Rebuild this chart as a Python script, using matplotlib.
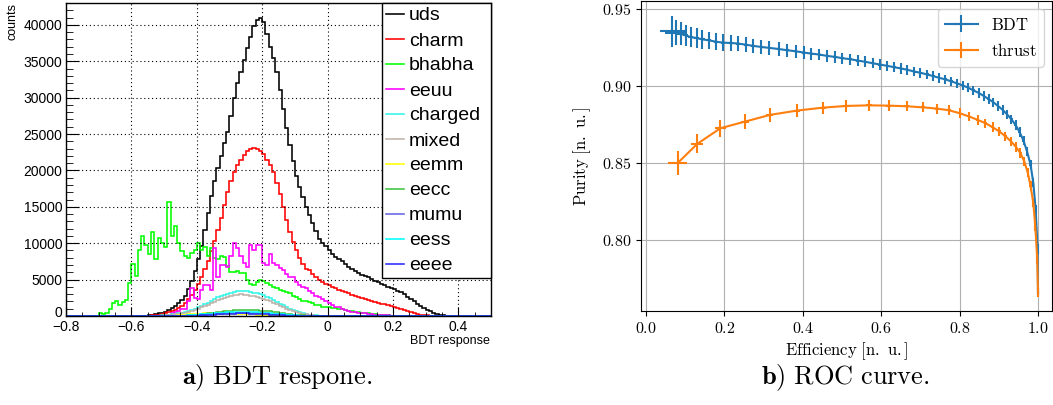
import numpy as np
import matplotlib
matplotlib.use('Agg')
import matplotlib.pyplot as plt
from matplotlib.ticker import MultipleLocator, FuncFormatter

plt.rcParams['mathtext.fontset'] = 'cm'

# ---------- Histogram data (BDT response, bins of 0.01 from -0.8 to 0.5) ---------- #
bin_lo, bin_hi, bin_w = -0.80, 0.50, 0.01

uds_start = -0.56
uds = [50, 100, 180, 280, 380, 480, 600, 800, 1100, 1400, 1800, 2200, 2800, 3700,
       4800, 6200, 7800, 9600, 11800, 14200, 16500, 18500, 20300, 22000, 23700, 25300,
       27500, 30000, 32000, 33500, 35200, 36800, 38300, 39800, 40600, 41000, 40400,
       38800, 37000, 35500, 33500, 31000, 28500, 25800, 23500, 21300, 19300, 17700,
       16300, 15000, 13900, 12800, 11700, 10600, 10000, 9600, 9000, 8500, 8100, 7800,
       7500, 7100, 6800, 6500, 6200, 5900, 5700, 5500, 5300, 5050, 4850, 4650, 4450,
       4250, 4050, 3850, 3650, 3500, 3300, 3000, 2650, 2350, 2000, 1700, 1400, 1100,
       850, 650, 450, 300, 180, 100, 50, 20]

charm_start = -0.55
charm = [50, 80, 130, 200, 280, 380, 500, 650, 850, 1100, 1400, 1800, 2300, 2900,
         3600, 4400, 5300, 6400, 7600, 8900, 10300, 11800, 13500, 15300, 17000, 18500,
         19800, 20800, 21500, 22100, 22600, 22900, 23100, 23000, 22700, 22200, 21500,
         20700, 19800, 18300, 16700, 15000, 13200, 11600, 10200, 9000, 8000, 7200, 6500,
         6300, 5800, 5300, 5000, 4700, 4450, 4250, 4000, 3800, 3600, 3400, 3250, 3100,
         2950, 2800, 2650, 2500, 2350, 2200, 2050, 1900, 1800, 1700, 1600, 1500, 1400,
         1250, 1100, 950, 800, 650, 500, 380, 280, 200, 130, 80, 40]

bhabha_start = -0.70
bhabha = [370, 300, 400, 900, 1750, 2000, 1500, 1900, 2200, 4500, 7200, 5500, 9000,
          11000, 9800, 8500, 11500, 7800, 10700, 10000, 9500, 15600, 11000, 12300,
          10000, 8900, 8300, 7900, 8600, 9100, 10000, 9100, 9500, 8200, 9300, 7900, 7800,
          8300, 8100, 6900, 6100, 6000, 6200, 5900, 5900, 5000, 4400, 4300, 4700, 5000,
          4800, 4500, 4200, 4000, 3800, 3600, 3500, 3300, 3100, 2800, 2600, 2300, 2100,
          2000, 1950, 1800, 1500, 1450, 1300, 1250, 1200, 1100, 1050, 1000, 950, 850,
          750, 650, 600, 520, 450, 400, 350, 300, 250, 200, 160, 120, 90, 60, 30]

eeuu_start = -0.50
eeuu = [100, 200, 350, 550, 750, 900, 1000, 2000, 3800, 2500, 2400, 3600, 4300, 4300,
        3600, 9300, 5400, 7000, 7000, 6800, 8200, 10000, 9300, 8200, 7300, 6800, 9800,
        9000, 9800, 9700, 7300, 7000, 8500, 7300, 7000, 6600, 6300, 5800, 5400, 5400,
        4700, 4200, 4000, 3800, 3400, 3100, 2800, 2600, 2300, 2000, 1800, 1500, 1300,
        1200, 1000, 850, 750, 600, 500, 460, 400, 350, 280, 250, 200, 150, 120, 100,
        80, 50, 30]

charged_start = -0.52
charged = [50, 80, 120, 170, 230, 300, 380, 470, 580, 700, 850, 1000, 1200, 1400, 1600,
           1850, 2100, 2350, 2550, 2750, 2900, 3050, 3200, 3300, 3400, 3500, 3450, 3400,
           3300, 3200, 3100, 3000, 2850, 2650, 2450, 2200, 1950, 1700, 1450, 1200, 1000,
           820, 650, 500, 380, 280, 200, 140, 90, 60, 30]

mixed_start = -0.52
mixed = [40, 60, 90, 130, 180, 240, 310, 390, 480, 580, 700, 840, 1000, 1170, 1350, 1550,
         1750, 1950, 2150, 2350, 2500, 2650, 2750, 2850, 2950, 3000, 2950, 2900, 2800,
         2700, 2600, 2500, 2350, 2200, 2000, 1800, 1600, 1400, 1200, 1000, 820, 660, 520,
         400, 300, 220, 150, 100, 60, 30]

eemm_start = -0.48
eemm = [30, 60, 100, 150, 200, 240, 270, 300, 320, 340, 350, 350, 345, 340, 330, 320,
        310, 300, 290, 280, 270, 260, 250, 240, 225, 210, 195, 180, 160, 140, 120, 100,
        80, 60, 45, 30, 20, 10]

eecc_start = -0.46
eecc = [20, 40, 60, 90, 120, 160, 200, 250, 300, 360, 420, 480, 540, 600, 650, 700, 740,
        770, 790, 800, 800, 790, 780, 770, 760, 740, 710, 670, 620, 560, 500, 430, 360,
        300, 240, 190, 150, 110, 80, 60, 40, 25, 15]

mumu_start = -0.44
mumu = [20, 40, 60, 90, 120, 150, 180, 210, 240, 270, 300, 330, 360, 380, 400, 420, 430,
        440, 450, 450, 450, 440, 430, 410, 390, 360, 330, 300, 260, 220, 180, 140, 110,
        80, 60, 40, 25, 15, 8]

eess_start = -0.45
eess = [20, 40, 70, 100, 140, 180, 220, 260, 300, 340, 380, 420, 450, 480, 500, 520, 535,
        545, 550, 550, 545, 535, 520, 500, 475, 445, 410, 370, 330, 290, 250, 210, 170,
        135, 100, 75, 50, 30, 20, 10]

eeee_start = -0.42
eeee = [20, 40, 60, 80, 100, 130, 160, 190, 220, 250, 280, 300, 320, 335, 345, 350, 350,
        345, 335, 320, 300, 280, 255, 230, 200, 170, 140, 110, 85, 60, 40, 25, 15, 8]

hist_names = ['uds', 'charm', 'bhabha', 'eeuu', 'charged', 'mixed',
              'eemm', 'eecc', 'mumu', 'eess', 'eeee']
hist_data = [(uds_start, uds), (charm_start, charm), (bhabha_start, bhabha),
             (eeuu_start, eeuu), (charged_start, charged), (mixed_start, mixed),
             (eemm_start, eemm), (eecc_start, eecc), (mumu_start, mumu),
             (eess_start, eess), (eeee_start, eeee)]
hist_colors = ['#000000', '#ff0000', '#00ff00', '#ff00ff', '#33f5e8', '#bdb3aa',
               '#ffff00', '#3fc33f', '#6464e6', '#00ffff', '#2a2aff']

# ---------- ROC data ---------- #
bdt_eff = [0.067, 0.077, 0.088, 0.101, 0.114, 0.129, 0.144, 0.161, 0.178, 0.197, 0.216,
           0.235, 0.254, 0.274, 0.294, 0.315, 0.338, 0.360, 0.382, 0.402, 0.422, 0.442,
           0.462, 0.482, 0.501, 0.521, 0.540, 0.559, 0.578, 0.597, 0.615, 0.633, 0.650,
           0.667, 0.684, 0.700, 0.717, 0.733, 0.748, 0.764, 0.779, 0.794, 0.808, 0.822,
           0.835, 0.849, 0.862, 0.874, 0.886, 0.898, 0.910, 0.921, 0.932, 0.943, 0.953,
           0.963, 0.972, 0.981, 0.988, 0.994, 0.999, 1.000]
bdt_pur = [0.9352, 0.9343, 0.9337, 0.9326, 0.9315, 0.9309, 0.9300, 0.9294, 0.9285, 0.9279,
           0.9277, 0.9273, 0.9266, 0.9258, 0.9251, 0.9245, 0.9238, 0.9230, 0.9223, 0.9215,
           0.9208, 0.9202, 0.9193, 0.9187, 0.9178, 0.9172, 0.9163, 0.9155, 0.9146, 0.9137,
           0.9129, 0.9120, 0.9112, 0.9103, 0.9092, 0.9084, 0.9073, 0.9062, 0.9051, 0.9041,
           0.9028, 0.9015, 0.9002, 0.8987, 0.8970, 0.8953, 0.8933, 0.8914, 0.8893, 0.8869,
           0.8843, 0.8815, 0.8783, 0.8745, 0.8700, 0.8644, 0.8575, 0.8489, 0.8371, 0.8200,
           0.7942, 0.7663]
bdt_eff_err = [0.032, 0.028, 0.008, 0.007, 0.006, 0.006, 0.006, 0.005, 0.005, 0.005,
               0.005, 0.005, 0.005, 0.005, 0.004, 0.004, 0.004, 0.004, 0.004, 0.004,
               0.004, 0.004, 0.004, 0.004, 0.004, 0.004, 0.004, 0.004, 0.004, 0.004,
               0.004, 0.004, 0.004, 0.004, 0.004, 0.004, 0.004, 0.004, 0.003, 0.003,
               0.003, 0.003, 0.003, 0.003, 0.003, 0.003, 0.003, 0.003, 0.003, 0.003,
               0.003, 0.003, 0.003, 0.003, 0.003, 0.003, 0.003, 0.003, 0.003, 0.002,
               0.002, 0.002]
bdt_pur_err = [0.0102, 0.0082, 0.0075, 0.0070, 0.0066, 0.0063, 0.0060, 0.0057, 0.0055,
               0.0053, 0.0051, 0.0049, 0.0047, 0.0046, 0.0045, 0.0044, 0.0043, 0.0042,
               0.0041, 0.0040, 0.0039, 0.0038, 0.0038, 0.0037, 0.0036, 0.0036, 0.0035,
               0.0035, 0.0034, 0.0034, 0.0033, 0.0033, 0.0033, 0.0032, 0.0032, 0.0032,
               0.0031, 0.0031, 0.0031, 0.0030, 0.0030, 0.0030, 0.0030, 0.0030, 0.0030,
               0.0030, 0.0030, 0.0030, 0.0030, 0.0030, 0.0030, 0.0030, 0.0030, 0.0030,
               0.0030, 0.0030, 0.0030, 0.0030, 0.0030, 0.0030, 0.0030, 0.0030]

thr_eff = [0.081, 0.131, 0.190, 0.253, 0.316, 0.385, 0.451, 0.510, 0.569, 0.619, 0.665,
           0.706, 0.742, 0.773, 0.800, 0.825, 0.846, 0.866, 0.884, 0.901, 0.917, 0.931,
           0.944, 0.955, 0.965, 0.974, 0.981, 0.988, 0.993, 0.998, 1.000]
thr_pur = [0.8500, 0.8624, 0.8725, 0.8768, 0.8811, 0.8839, 0.8858, 0.8869, 0.8873, 0.8871,
           0.8867, 0.8860, 0.8852, 0.8841, 0.8822, 0.8800, 0.8779, 0.8757, 0.8732, 0.8704,
           0.8672, 0.8640, 0.8603, 0.8564, 0.8510, 0.8436, 0.8350, 0.8242, 0.8092, 0.7878,
           0.7663]
thr_eff_err = [0.024, 0.015, 0.013, 0.010, 0.009, 0.008, 0.008, 0.007, 0.007, 0.006,
               0.006, 0.005, 0.005, 0.005, 0.004, 0.004, 0.004, 0.004, 0.004, 0.004,
               0.003, 0.003, 0.003, 0.003, 0.003, 0.003, 0.003, 0.002, 0.002, 0.002,
               0.002]
thr_pur_err = [0.0080, 0.0061, 0.0054, 0.0048, 0.0043, 0.0040, 0.0038, 0.0036, 0.0035,
               0.0034, 0.0033, 0.0033, 0.0032, 0.0032, 0.0031, 0.0031, 0.0031, 0.0030,
               0.0030, 0.0030, 0.0030, 0.0030, 0.0030, 0.0030, 0.0030, 0.0030, 0.0030,
               0.0030, 0.0030, 0.0030, 0.0030]

W, H = 1053, 405
fig = plt.figure(figsize=(W / 100, H / 100), dpi=100)

# ---------- Left: ROOT style histogram ---------- #
root_font = 'Liberation Sans'
ax1 = fig.add_axes([66 / W, 89 / H, 425 / W, 313 / H])
n_bins = int(round((bin_hi - bin_lo) / bin_w))
edges = np.round(bin_lo + bin_w * np.arange(n_bins + 1), 4)
for name, (start, vals), col in zip(hist_names, hist_data, hist_colors):
    full = np.zeros(n_bins)
    i0 = int(round((start - bin_lo) / bin_w))
    full[i0:i0 + len(vals)] = vals
    ax1.stairs(full, edges, color=col, lw=1.15, label=name, baseline=None)

ax1.set_xlim(bin_lo, bin_hi)
ax1.set_ylim(0, 43000)
ax1.xaxis.set_major_locator(MultipleLocator(0.2))
ax1.xaxis.set_minor_locator(MultipleLocator(0.05))
ax1.yaxis.set_major_locator(MultipleLocator(5000))
ax1.yaxis.set_minor_locator(MultipleLocator(1000))
ax1.xaxis.set_major_formatter(FuncFormatter(
    lambda v, p: ('%g' % round(v, 2)).replace('-', '\u2212')))
# the "0" of the y axis sits a little higher, as ROOT draws it
ax1.yaxis.set_major_formatter(FuncFormatter(
    lambda v, p: '%d' % v if v > 0 else ''))
ax1.text(-0.008, 0.01, '0', transform=ax1.transAxes, ha='right', va='center',
         fontsize=10, family=root_font)
ax1.tick_params(which='both', direction='in', labelsize=10)
ax1.tick_params(axis='x', which='major', length=6.5, pad=3)
ax1.tick_params(axis='x', which='minor', length=3.2)
ax1.tick_params(axis='y', which='major', length=9.5, pad=2.5)
ax1.tick_params(axis='y', which='minor', length=5)
for lab in ax1.get_xticklabels() + ax1.get_yticklabels():
    lab.set_fontfamily(root_font)
ax1.grid(True, which='major', color='black', ls=(0, (1, 2.5)), lw=0.8)
for sp in ax1.spines.values():
    sp.set_linewidth(1.0)

leg1 = ax1.legend(loc='upper left', bbox_to_anchor=(316 / 425, 0, 109 / 425, 1),
                  mode='expand', borderaxespad=0, fancybox=False, framealpha=1,
                  edgecolor='black', prop={'family': root_font, 'size': 14},
                  handlelength=0.95, handletextpad=0.22, labelspacing=0.38,
                  borderpad=0.2)
leg1.get_frame().set_linewidth(1.0)

fig.text(12 / W, 1 - 3 / H, 'counts', rotation=90, ha='center', va='top',
         fontsize=9, family=root_font)
fig.text(490 / W, 1 - 341 / H, 'BDT response', ha='right', va='center',
         fontsize=9, family=root_font)

# ---------- Right: ROC curve ---------- #
ax2 = fig.add_axes([641 / W, 94 / H, 411 / W, 310.5 / H])
ax2.errorbar(bdt_eff, bdt_pur, xerr=bdt_eff_err, yerr=bdt_pur_err,
             color='#1f77b4', label=r'$\mathrm{BDT}$')
ax2.errorbar(thr_eff, thr_pur, xerr=thr_eff_err, yerr=thr_pur_err,
             color='#ff7f0e', label=r'$\mathrm{thrust}$')
ax2.set_xlim(-0.0128, 1.0357)
ax2.set_ylim(0.7541, 0.9552)
ax2.xaxis.set_major_locator(MultipleLocator(0.2))
ax2.yaxis.set_major_locator(MultipleLocator(0.05))
ax2.xaxis.set_major_formatter(FuncFormatter(lambda v, p: r'$%.1f$' % v))
ax2.yaxis.set_major_formatter(FuncFormatter(lambda v, p: r'$%.2f$' % v))
ax2.tick_params(labelsize=11.5)
ax2.grid(True, color='#b0b0b0', lw=0.8)
ax2.set_axisbelow(True)
ax2.set_xlabel(r'$\mathrm{Efficiency\ [n.\ u.]}$', fontsize=12, labelpad=3)
ax2.set_ylabel(r'$\mathrm{Purity\ [n.\ u.]}$', fontsize=12, labelpad=6)
ax2.legend(loc='upper right', fontsize=12)

# ---------- Captions ---------- #
fig.text(277 / W, 1 - 384 / H, r'$\mathbf{a)}\ \mathrm{BDT\ respone.}$',
         ha='center', va='baseline', fontsize=19)
fig.text(845 / W, 1 - 384 / H, r'$\mathbf{b)}\ \mathrm{ROC\ curve.}$',
         ha='center', va='baseline', fontsize=19)

fig.savefig('out.png', dpi=100)
